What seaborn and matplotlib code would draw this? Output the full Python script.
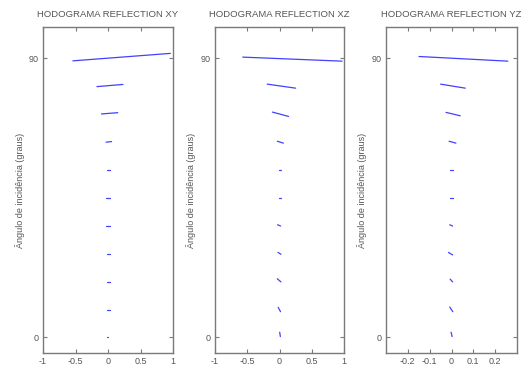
import numpy as np
import pandas as pd
import matplotlib
matplotlib.use("Agg")
import matplotlib.pyplot as plt
import seaborn as sns

# Incidence angles (degrees) for each hodogram segment
angles = [0, 9, 18, 27, 36, 45, 54, 63, 72, 81, 90]

# Panel XY: segment endpoints (x start/end, y start/end)
xy_x0 = [-0.010, -0.015, -0.020, -0.020, -0.025, -0.025, -0.015, -0.030, -0.100, -0.170, -0.540]
xy_x1 = [0.005, 0.025, 0.030, 0.035, 0.035, 0.030, 0.025, 0.055, 0.150, 0.230, 0.960]
xy_y0 = [0.0, 9.0, 18.0, 27.0, 36.0, 45.0, 54.0, 62.9, 72.0, 80.8, 89.1]
xy_y1 = [0.0, 9.0, 18.0, 27.0, 36.0, 45.0, 54.0, 63.1, 72.4, 81.5, 91.5]

# Panel XZ
xz_x0 = [0.003, -0.020, -0.034, -0.024, -0.030, -0.013, -0.013, -0.034, -0.110, -0.190, -0.570]
xz_x1 = [0.013, 0.016, 0.023, 0.023, 0.018, 0.018, 0.023, 0.060, 0.140, 0.250, 0.970]
xz_y0 = [1.7, 9.7, 18.9, 27.4, 36.3, 45.0, 54.0, 63.2, 72.6, 81.6, 90.3]
xz_y1 = [0.3, 8.3, 17.9, 26.8, 35.9, 45.0, 54.0, 62.6, 71.2, 80.3, 89.0]

# Panel YZ
yz_x0 = [-0.002, -0.008, -0.006, -0.014, -0.008, -0.005, -0.005, -0.011, -0.025, -0.050, -0.149]
yz_x1 = [0.003, 0.006, 0.005, 0.005, 0.005, 0.005, 0.005, 0.020, 0.040, 0.063, 0.258]
yz_y0 = [1.7, 9.8, 18.8, 27.4, 36.3, 45.0, 54.0, 63.2, 72.5, 81.6, 90.5]
yz_y1 = [0.3, 8.3, 17.9, 26.6, 35.9, 45.0, 54.0, 62.6, 71.4, 80.3, 89.0]

titles = ["HODOGRAMA REFLECTION XY", "HODOGRAMA REFLECTION XZ", "HODOGRAMA REFLECTION YZ"]
ylabel = "Ângulo de incidência (graus)"
xlims = [(-1, 1), (-1, 1), (-0.3, 0.3)]
xticks = [[-1, -0.5, 0, 0.5, 1], [-1, -0.5, 0, 0.5, 1], [-0.2, -0.1, 0, 0.1, 0.2]]
xticklabels = [["-1", "-0.5", "0", "0.5", "1"], ["-1", "-0.5", "0", "0.5", "1"],
               ["-0.2", "-0.1", "0", "0.1", "0.2"]]
yticks = [0, 90]


def segments_frame(x0, x1, y0, y1):
    rows = []
    for i, a in enumerate(angles):
        rows.append({"seg": a, "order": 0, "x": x0[i], "y": y0[i]})
        rows.append({"seg": a, "order": 1, "x": x1[i], "y": y1[i]})
    return pd.DataFrame(rows)


panels = [segments_frame(xy_x0, xy_x1, xy_y0, xy_y1),
          segments_frame(xz_x0, xz_x1, xz_y0, xz_y1),
          segments_frame(yz_x0, yz_x1, yz_y0, yz_y1)]

sns.set_theme(style="white")
plt.rcParams['font.family'] = ['Liberation Sans', 'DejaVu Sans']

W, H = 531, 380
fig = plt.figure(figsize=(W / 100, H / 100), dpi=100)
fig.patch.set_facecolor("white")

lefts = [43, 215, 386]
widths = [130, 129, 131]
top, bottom = 27, 353
label_x = [20, 191, 362]
txt_color = "#555555"
edge_color = "#7a7a7a"

for k in range(3):
    ax = fig.add_axes([lefts[k] / W, (H - bottom) / H, widths[k] / W, (bottom - top) / H])
    sns.lineplot(data=panels[k], x="x", y="y", units="seg", estimator=None, sort=False,
                 color="#2020ff", linewidth=0.9, alpha=0.85, legend=False, ax=ax)
    ax.set_xlim(*xlims[k])
    ax.set_ylim(-5, 100)
    ax.set_xticks(xticks[k])
    ax.set_xticklabels(xticklabels[k])
    ax.set_yticks(yticks)
    ax.set_yticklabels([str(t) for t in yticks])
    ax.set_xlabel("")
    ax.set_ylabel("")
    ax.tick_params(direction="in", length=3, width=0.8, colors=edge_color,
                   labelcolor=txt_color, labelsize=6.5, top=True, right=True,
                   bottom=True, left=True, pad=3)
    for s in ax.spines.values():
        s.set_color(edge_color)
        s.set_linewidth(1.0)
    ax.set_title(titles[k], fontsize=6.8, color=txt_color, pad=7)
    fig.text(label_x[k] / W, (H - (top + bottom) / 2) / H, ylabel, rotation=90,
             fontsize=6.5, color=txt_color, ha="center", va="center")

fig.savefig("out.png", dpi=100, facecolor="white")
